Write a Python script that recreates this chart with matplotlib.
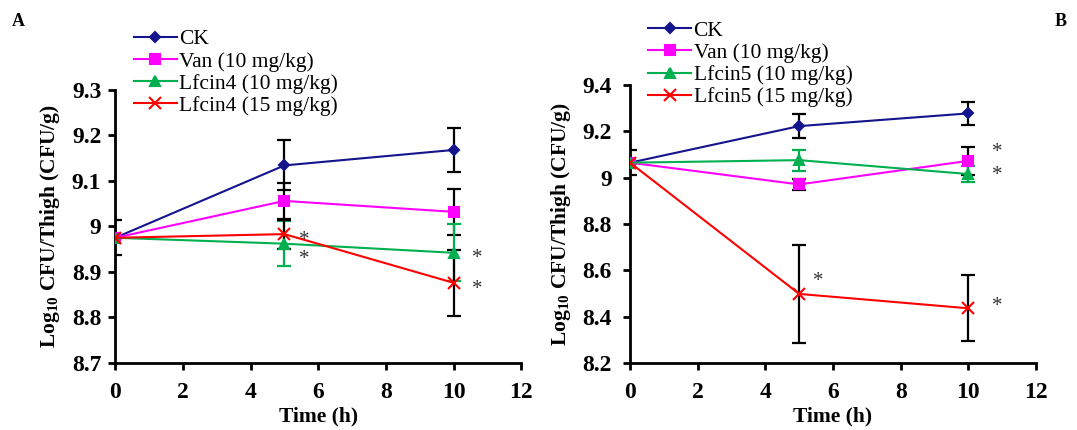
import numpy as np
import matplotlib.pyplot as plt

plt.rcParams['font.family'] = ['Liberation Serif', 'DejaVu Serif']
plt.rcParams['mathtext.fontset'] = 'custom'
plt.rcParams['mathtext.rm'] = 'Liberation Serif:bold'
plt.rcParams['mathtext.bf'] = 'Liberation Serif:bold'

time_h = [0, 5, 10]

# Panel A
a_labels = ['CK', 'Van (10 mg/kg)', 'Lfcin4 (10 mg/kg)', 'Lfcin4 (15 mg/kg)']
a_ck = [8.975, 9.134, 9.168]
a_ck_err = [0.038, 0.055, 0.048]
a_van = [8.975, 9.056, 9.032]
a_van_err = [0.0, 0.040, 0.050]
a_l10 = [8.975, 8.962, 8.942]
a_l10_err = [0.0, 0.050, 0.063]
a_l15 = [8.975, 8.983, 8.876]
a_l15_err = [0.0, 0.032, 0.072]
a_stars_x = [5.6, 5.6, 10.7, 10.7]
a_stars_y = [8.970, 8.927, 8.929, 8.861]

# Panel B
b_labels = ['CK', 'Van (10 mg/kg)', 'Lfcin5 (10 mg/kg)', 'Lfcin5 (15 mg/kg)']
b_ck = [9.065, 9.223, 9.278]
b_ck_err = [0.055, 0.053, 0.050]
b_van = [9.065, 8.971, 9.073]
b_van_err = [0.0, 0.022, 0.060]
b_l10 = [9.065, 9.076, 9.016]
b_l10_err = [0.0, 0.045, 0.035]
b_l15 = [9.065, 8.498, 8.436]
b_l15_err = [0.0, 0.213, 0.143]
b_stars_x = [10.85, 10.85, 5.55, 10.85]
b_stars_y = [9.11, 9.01, 8.553, 8.445]

colors = ['#14148C', '#FF00FF', '#00B050', '#FF0000']
markers = ['D', 's', '^', 'x']
msizes = [5.5, 7.5, 6.5, 8]
ecolors = ['black', 'black', '#00B050', 'black']


def draw_panel(ax, series, errs, labels, ylim, yticks, ylabels, stars_x, stars_y, tpad):
    handles = []
    for i in range(4):
        ax.errorbar(time_h, series[i], yerr=errs[i], fmt='none', ecolor=ecolors[i],
                    elinewidth=1.6, capsize=5, capthick=1.6, zorder=2)
        h, = ax.plot(time_h, series[i], color=colors[i], marker=markers[i],
                     markersize=msizes[i], markeredgewidth=1.5, lw=1.5,
                     label=labels[i], zorder=3)
        handles.append(h)
    for sx, sy in zip(stars_x, stars_y):
        ax.text(sx, sy, '*', fontsize=15, color='#333333', ha='center', va='center')
    ax.set_xlim(0, 12)
    ax.set_ylim(*ylim)
    ax.set_xticks(range(0, 13, 2))
    ax.set_yticks(yticks)
    ax.set_yticklabels(ylabels)
    for s in ['top', 'right']:
        ax.spines[s].set_visible(False)
    for s in ['left', 'bottom']:
        ax.spines[s].set_linewidth(2)
    ax.tick_params(width=2, length=5, labelsize=17)
    ax.tick_params(axis='y', pad=tpad)
    ax.tick_params(axis='x', pad=9)
    for lab in ax.get_xticklabels() + ax.get_yticklabels():
        lab.set_fontweight('bold')
    ax.set_xlabel('Time (h)', fontsize=15.5, fontweight='bold', labelpad=2)
    ax.set_ylabel(r'Log$_{10}$ CFU/Thigh (CFU/g)', fontsize=15.5, fontweight='bold', labelpad=7)
    return handles


fig = plt.figure(figsize=(10.77, 4.30), dpi=100)
axA = fig.add_axes([0.107, 0.156, 0.377, 0.635])
axB = fig.add_axes([0.585, 0.156, 0.377, 0.646])

hA = draw_panel(axA, [a_ck, a_van, a_l10, a_l15], [a_ck_err, a_van_err, a_l10_err, a_l15_err],
                a_labels, (8.7, 9.3), [8.7, 8.8, 8.9, 9.0, 9.1, 9.2, 9.3],
                ['8.7', '8.8', '8.9', '9', '9.1', '9.2', '9.3'], a_stars_x, a_stars_y, 5)
hB = draw_panel(axB, [b_ck, b_van, b_l10, b_l15], [b_ck_err, b_van_err, b_l10_err, b_l15_err],
                b_labels, (8.2, 9.4), [8.2, 8.4, 8.6, 8.8, 9.0, 9.2, 9.4],
                ['8.2', '8.4', '8.6', '8.8', '9', '9.2', '9.4'], b_stars_x, b_stars_y, 8)

fig.legend(handles=hA, loc='upper left', bbox_to_anchor=(0.124, 0.932), frameon=False,
           fontsize=15.5, handlelength=2.0, handletextpad=0.1, labelspacing=0.1,
           borderaxespad=0, borderpad=0)
fig.legend(handles=hB, loc='upper left', bbox_to_anchor=(0.602, 0.952), frameon=False,
           fontsize=15.5, handlelength=2.0, handletextpad=0.1, labelspacing=0.1,
           borderaxespad=0, borderpad=0)

fig.text(0.011, 0.95, 'A', fontsize=13, fontweight='bold', va='center')
fig.text(0.979, 0.95, 'B', fontsize=13, fontweight='bold', va='center')

fig.savefig('out.png', dpi=100)
